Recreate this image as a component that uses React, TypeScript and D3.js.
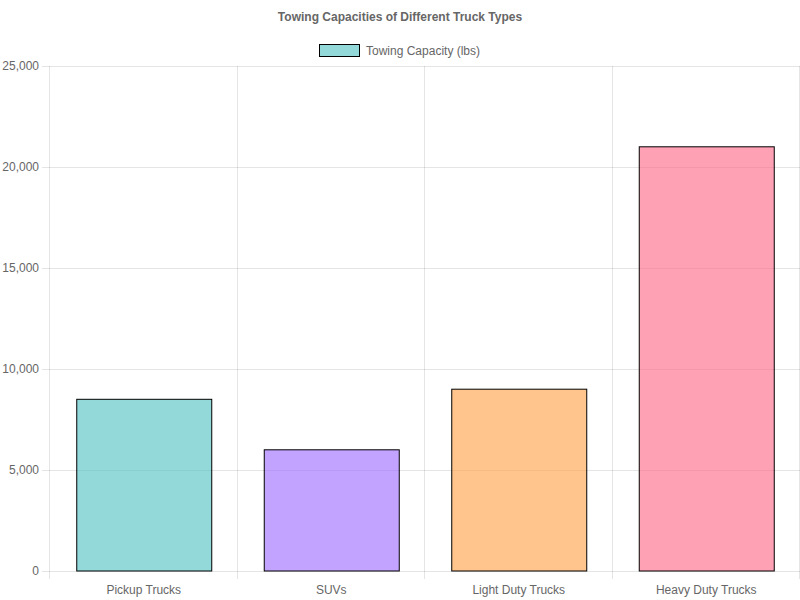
import React from "react";
import * as d3 from "d3";

const categories = ["Pickup Trucks", "SUVs", "Light Duty Trucks", "Heavy Duty Trucks"];
const values = [8500, 6000, 9000, 21000];
const fills = [
  "rgba(75,192,192,0.6)",
  "rgba(153,102,255,0.6)",
  "rgba(255,159,64,0.6)",
  "rgba(255,99,132,0.6)",
];
const yTicks = [0, 5000, 10000, 15000, 20000, 25000];
const title = "Towing Capacities of Different Truck Types";
const seriesLabel = "Towing Capacity (lbs)";

export default function App() {
  const W = 800, H = 600;
  const left = 50, right = 800, top = 66, bottom = 571;
  const x = d3.scaleBand<string>().domain(categories).range([left, right]).paddingInner(0).paddingOuter(0);
  const y = d3.scaleLinear().domain([0, 25000]).range([bottom, top]);
  const bw = x.bandwidth() * 0.72;
  const fmt = d3.format(",");
  const font = "'Liberation Sans', Arial, Helvetica, sans-serif";
  const grid = "rgba(0,0,0,0.1)";
  const gridX = categories.map((_, i) => left + i * x.step()).concat([right]);
  return (
    <svg width={W} height={H} style={{ position: "absolute", left: 0, top: 0, background: "#fff" }} fontFamily={font}>
      <text x={400} y={21} textAnchor="middle" fontSize={12} fontWeight="bold" fill="#666">{title}</text>
      <rect x={319.5} y={44.5} width={40} height={12} fill={fills[0]} stroke="#000" strokeWidth={1} />
      <text x={366} y={54.5} fontSize={12} fill="#666">{seriesLabel}</text>
      {yTicks.map((t) => (
        <g key={t}>
          <line x1={left - 8} x2={right} y1={Math.round(y(t)) + 0.5} y2={Math.round(y(t)) + 0.5} stroke={grid} />
          <text x={left - 11} y={y(t) + 4} textAnchor="end" fontSize={12} fill="#666">{fmt(t)}</text>
        </g>
      ))}
      {gridX.map((gx, i) => (
        <line key={i} x1={Math.round(gx) - 0.5} x2={Math.round(gx) - 0.5} y1={top} y2={bottom + 8} stroke={grid} />
      ))}
      {categories.map((c, i) => {
        const cx = x(c)! + x.bandwidth() / 2;
        return (
          <g key={c}>
            <rect x={cx - bw / 2 + 0.5} y={y(values[i])} width={bw} height={bottom - y(values[i])} fill={fills[i]} stroke="#000" strokeWidth={1} />
            <text x={cx} y={594} textAnchor="middle" fontSize={12} fill="#666">{c}</text>
          </g>
        );
      })}
    </svg>
  );
}
